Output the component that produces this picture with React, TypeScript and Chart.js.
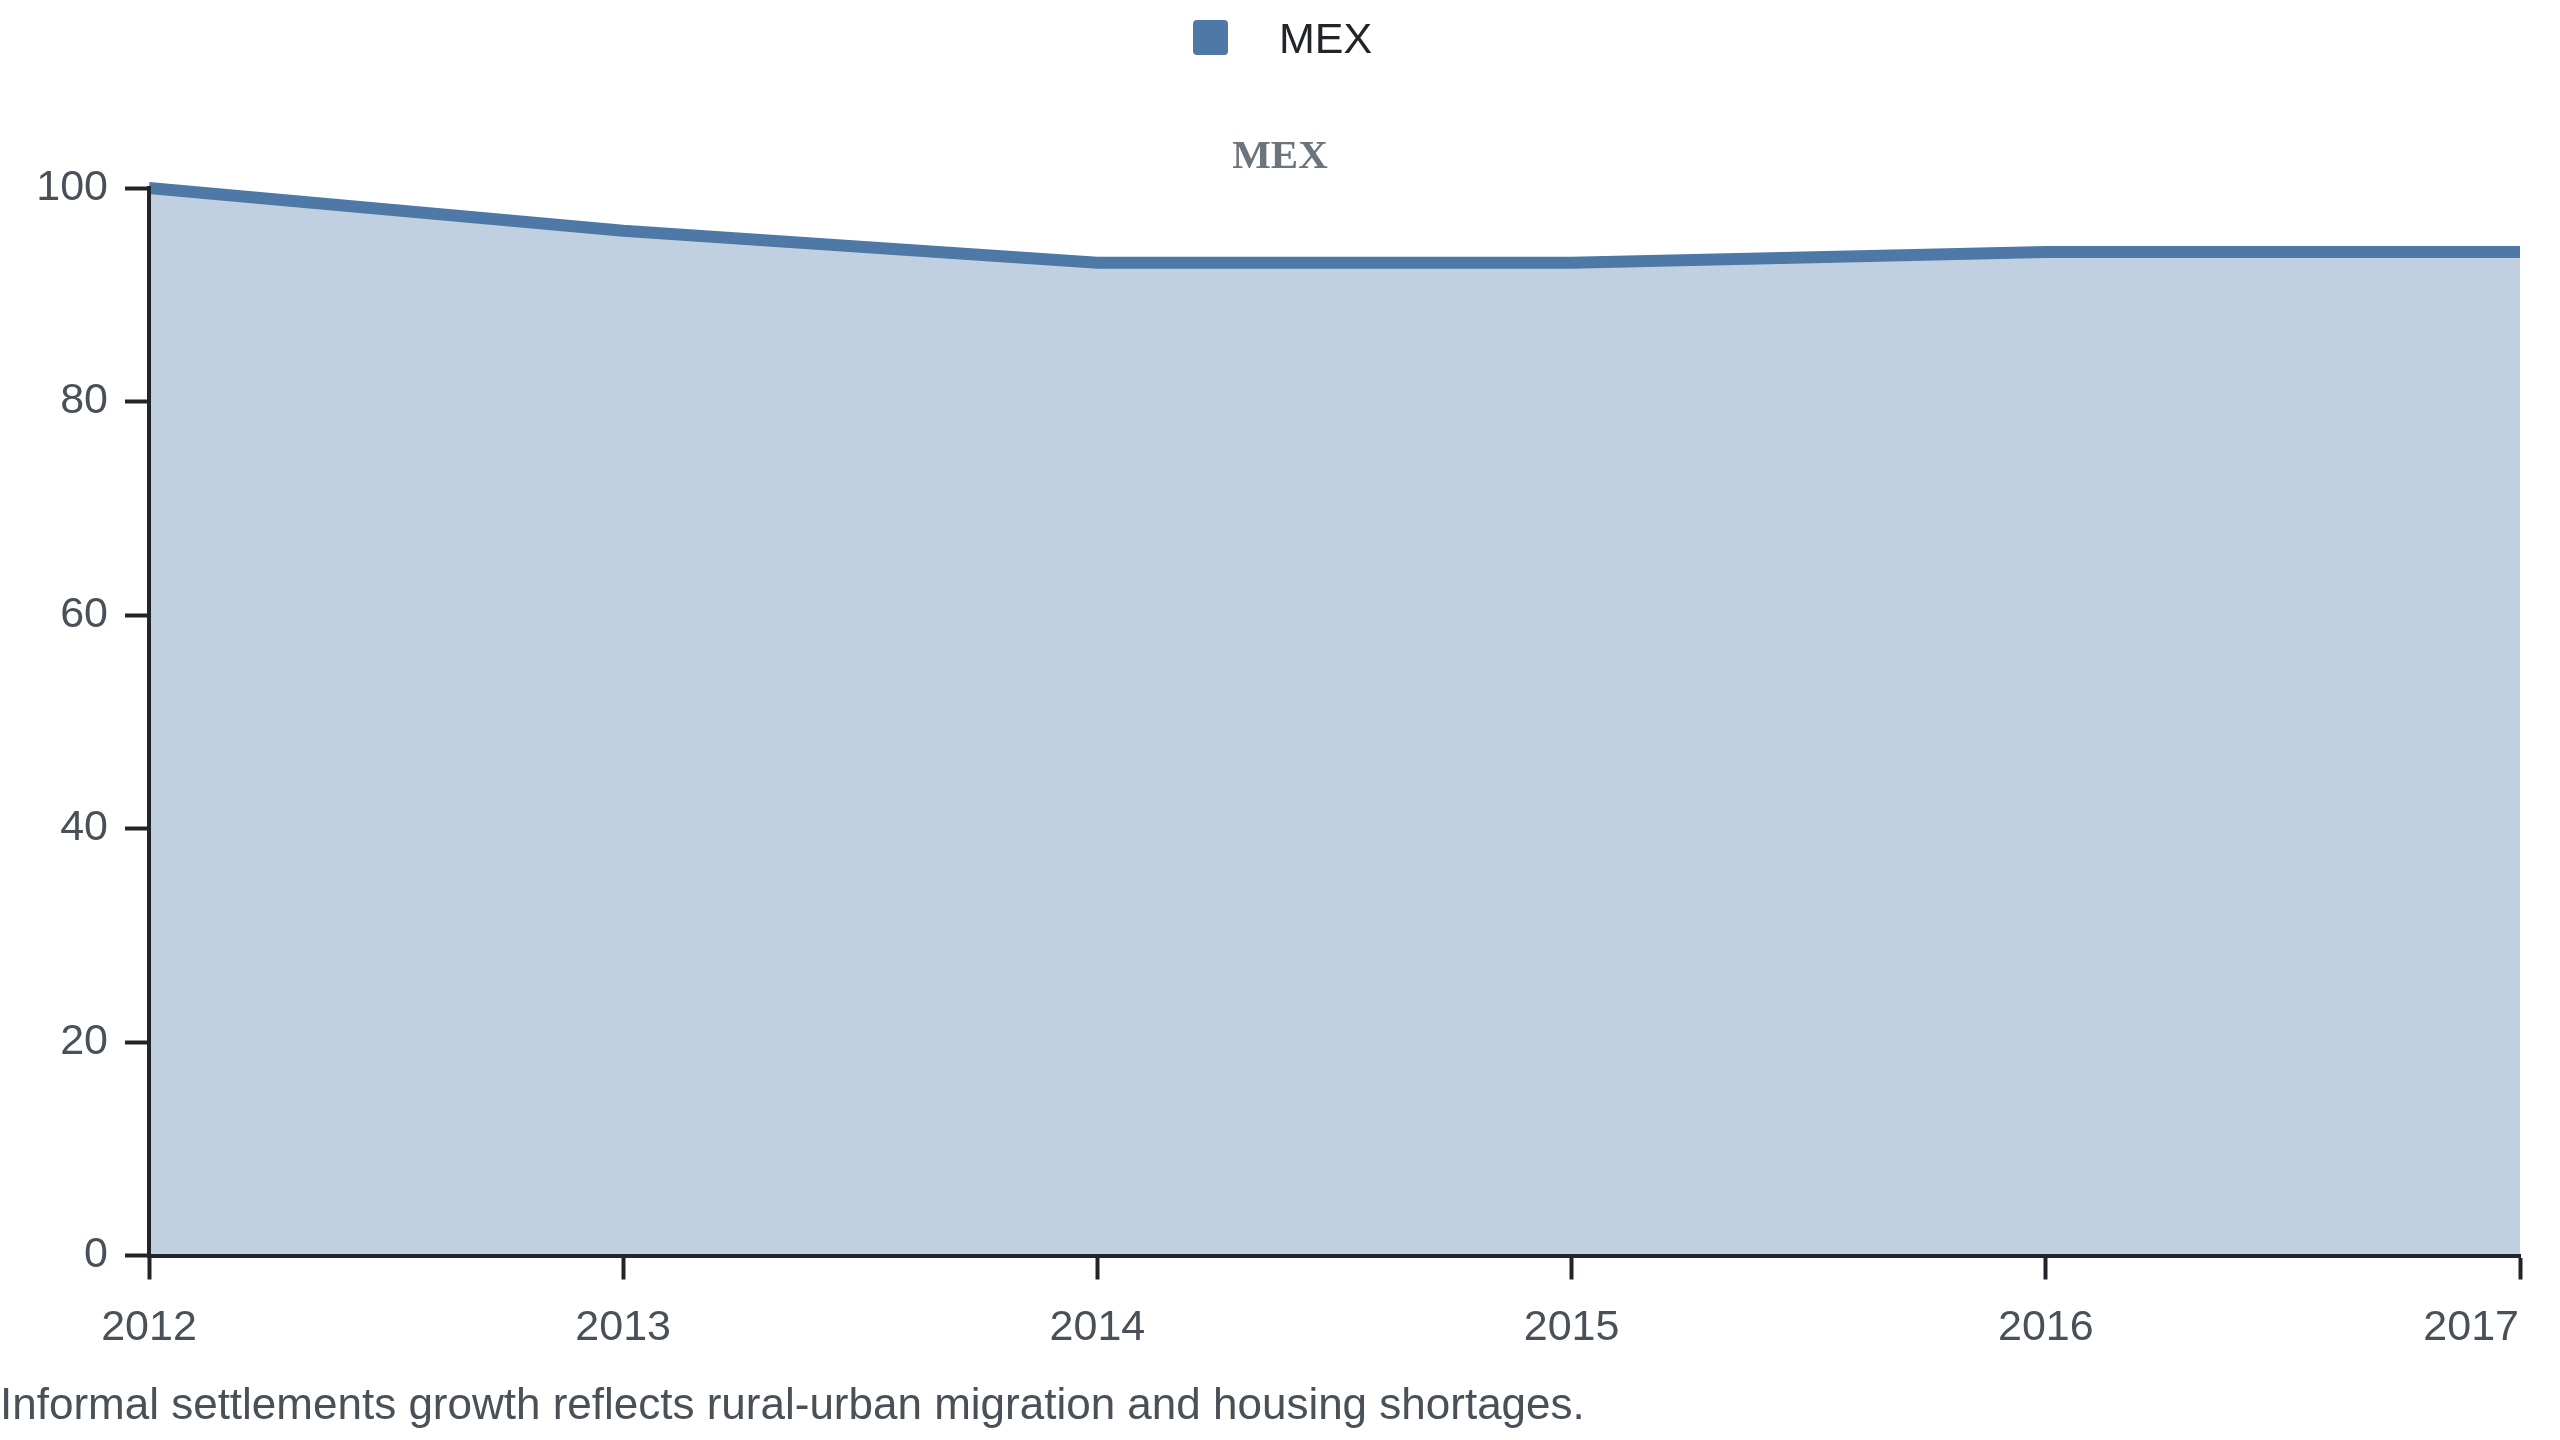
import React, { useEffect, useRef } from 'react';
import { Chart, registerables } from 'chart.js';

Chart.register(...registerables);

const categories = ['2012', '2013', '2014', '2015', '2016', '2017'];
const mexValues = [100, 96, 93, 93, 94, 94];
const yTickStep = 20;
const yMin = 0;
const yMax = 100;
const seriesName = 'MEX';
const chartTitle = 'MEX';
const caption = 'Informal settlements growth reflects rural-urban migration and housing shortages.';

const SANS = '"Liberation Sans", Arial, Helvetica, sans-serif';
const SERIF = '"Liberation Serif", "Times New Roman", serif';
const LINE = '#4e79a7';
const FILL = 'rgba(78,121,167,0.35)';
const AXIS = '#212529';
const TICK_TEXT = '#495057';

export default function App() {
  const ref = useRef<HTMLCanvasElement>(null);

  useEffect(() => {
    document.body.style.margin = '0';
    const canvas = ref.current;
    if (!canvas) return;

    const overlay = {
      id: 'overlay',
      afterDraw(chart: any) {
        const ctx = chart.ctx as CanvasRenderingContext2D;
        const cx = chart.width / 2;
        ctx.save();
        // legend
        ctx.fillStyle = LINE;
        ctx.beginPath();
        (ctx as any).roundRect(cx - 87, 20, 35, 35, 4);
        ctx.fill();
        ctx.font = `43px ${SANS}`;
        ctx.fillStyle = AXIS;
        ctx.textAlign = 'left';
        ctx.textBaseline = 'alphabetic';
        ctx.fillText(seriesName, cx - 1, 53);
        // title
        ctx.font = `bold 41px ${SERIF}`;
        ctx.fillStyle = '#6c757d';
        ctx.textAlign = 'center';
        ctx.fillText(chartTitle, cx, 168);
        // x tick labels
        const xs = chart.scales.x;
        ctx.font = `43px ${SANS}`;
        ctx.fillStyle = TICK_TEXT;
        const n = xs.ticks.length;
        xs.ticks.forEach((t: any, i: number) => {
          const px = xs.getPixelForTick(i);
          const last = i === n - 1;
          ctx.textAlign = last ? 'right' : 'center';
          ctx.fillText(String(xs.getLabelForValue(t.value)), last ? px - 1 : px, 1340);
        });
        // caption
        ctx.font = `44px ${SANS}`;
        ctx.textAlign = 'left';
        ctx.fillText(caption, 0, 1419);
        ctx.restore();
      },
    };

    const chart = new Chart(canvas, {
      type: 'line',
      data: {
        labels: categories,
        datasets: [
          {
            label: seriesName,
            data: mexValues,
            borderColor: LINE,
            backgroundColor: FILL,
            fill: 'origin',
            borderWidth: 12,
            pointRadius: 0,
            pointHoverRadius: 0,
            tension: 0,
            borderJoinStyle: 'round',
            borderCapStyle: 'butt',
            clip: 20,
          },
        ],
      },
      options: {
        responsive: false,
        maintainAspectRatio: false,
        devicePixelRatio: 1,
        animation: false,
        events: [],
        layout: { padding: { top: 188, right: 40, bottom: 0, left: 0 } },
        plugins: {
          legend: { display: false },
          title: { display: false },
          tooltip: { enabled: false },
        },
        scales: {
          x: {
            type: 'category',
            offset: false,
            grid: {
              drawOnChartArea: false,
              drawTicks: true,
              tickLength: 24,
              tickWidth: 4,
              tickColor: AXIS,
              z: 1,
            },
            border: { display: true, width: 4, color: AXIS, z: 1 },
            ticks: { display: false },
            afterFit(s: any) {
              s.height = 184.5;
            },
          },
          y: {
            min: yMin,
            max: yMax,
            grid: {
              drawOnChartArea: false,
              drawTicks: true,
              tickLength: 24,
              tickWidth: 4,
              tickColor: AXIS,
              z: 1,
            },
            border: { display: true, width: 4, color: AXIS, z: 1 },
            ticks: {
              stepSize: yTickStep,
              padding: 17,
              color: TICK_TEXT,
              font: { size: 43, family: SANS },
            },
            afterFit(s: any) {
              s.width = 149;
            },
          },
        },
      },
      plugins: [overlay],
    } as any);

    return () => chart.destroy();
  }, []);

  return (
    <div style={{ width: 2560, height: 1440 }}>
      <canvas ref={ref} width={2560} height={1440} style={{ display: 'block', width: 2560, height: 1440 }} />
    </div>
  );
}
